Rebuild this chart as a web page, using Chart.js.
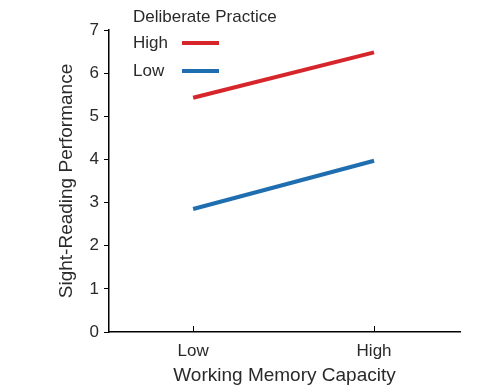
<!DOCTYPE html>
<html>
<head>
<meta charset="utf-8">
<script src="https://cdn.jsdelivr.net/npm/chart.js@4/dist/chart.umd.min.js"></script>
<style>
  html, body { margin: 0; padding: 0; background: #fff; }
  #wrap { width: 500px; height: 391px; }
</style>
</head>
<body>
<div id="wrap"><canvas id="wmChart" width="500" height="391"></canvas></div>
<script>
// data
const memoryLabels = ['Low', 'High'];
const practiceLevels = ['High', 'Low'];
const highPractice = [5.43, 6.48];
const lowPractice = [2.85, 3.97];
const yTicks = [0, 1, 2, 3, 4, 5, 6, 7];

const textColor = '#2a2a2a';
const font = 'Liberation Sans, Arial, sans-serif';

// legend drawn as: label text, then line sample to its right
const sideLegend = {
    id: 'sideLegend',
    afterDraw(chart) {
        const ctx = chart.ctx;
        ctx.save();
        ctx.fillStyle = textColor;
        ctx.font = '17px ' + font;
        ctx.textBaseline = 'middle';
        ctx.textAlign = 'left';
        ctx.fillText('Deliberate Practice', 133, 17);
        chart.data.datasets.forEach((ds, i) => {
            const y = 43 + i * 28;
            ctx.fillStyle = textColor;
            ctx.fillText(ds.label, 133, y);
            ctx.strokeStyle = ds.borderColor;
            ctx.lineWidth = 4;
            ctx.beginPath();
            ctx.moveTo(182, y);
            ctx.lineTo(219, y);
            ctx.stroke();
        });
        ctx.restore();
    }
};

// x ticks point inward (up from the axis)
const innerTicks = {
    id: 'innerTicks',
    afterDraw(chart) {
        const xs = chart.scales.x;
        const ctx = chart.ctx;
        ctx.save();
        ctx.strokeStyle = '#000';
        ctx.lineWidth = 1;
        xs.ticks.forEach(t => {
            const px = Math.round(xs.getPixelForValue(t.value)) + 0.5;
            ctx.beginPath();
            ctx.moveTo(px, chart.chartArea.bottom);
            ctx.lineTo(px, chart.chartArea.bottom - 6);
            ctx.stroke();
        });
        ctx.restore();
    }
};

const chart = new Chart(document.getElementById('wmChart').getContext('2d'), {
    type: 'line',
    data: {
        datasets: [
            {
                label: practiceLevels[0],
                data: highPractice.map((v, i) => ({ x: i, y: v })),
                borderColor: '#d7262b',
                borderWidth: 4,
                pointRadius: 0,
                fill: false
            },
            {
                label: practiceLevels[1],
                data: lowPractice.map((v, i) => ({ x: i, y: v })),
                borderColor: '#1f6eb0',
                borderWidth: 4,
                pointRadius: 0,
                fill: false
            }
        ]
    },
    options: {
        responsive: false,
        animation: false,
        layout: { padding: { left: 55, right: 40, top: 30, bottom: 4 } },
        plugins: {
            legend: { display: false },
            tooltip: { enabled: false }
        },
        scales: {
            x: {
                type: 'linear',
                min: -0.465,
                max: 1.475,
                afterBuildTicks(scale) {
                    scale.ticks = memoryLabels.map((l, i) => ({ value: i }));
                },
                afterFit(scale) { scale.height = 55; },
                grid: { display: true, drawOnChartArea: false, drawTicks: false },
                border: { color: '#000', width: 1.5 },
                ticks: {
                    padding: 9,
                    color: textColor,
                    font: { family: font, size: 17 },
                    callback: (v) => memoryLabels[v]
                },
                title: {
                    display: true,
                    text: 'Working Memory Capacity',
                    color: textColor,
                    font: { family: font, size: 19 },
                    padding: { top: 3, bottom: 0 }
                }
            },
            y: {
                min: 0,
                max: 7,
                afterBuildTicks(scale) {
                    scale.ticks = yTicks.map(v => ({ value: v }));
                },
                afterFit(scale) { scale.width = 54; },
                grid: { drawOnChartArea: false, tickLength: 5, color: '#000' },
                border: { color: '#000', width: 1.5 },
                ticks: {
                    padding: 5,
                    color: textColor,
                    font: { family: font, size: 17 }
                },
                title: {
                    display: true,
                    text: 'Sight-Reading Performance',
                    color: textColor,
                    font: { family: font, size: 19 },
                    padding: { top: 0, bottom: 4 }
                }
            }
        }
    },
    plugins: [sideLegend, innerTicks]
});
</script>
</body>
</html>
